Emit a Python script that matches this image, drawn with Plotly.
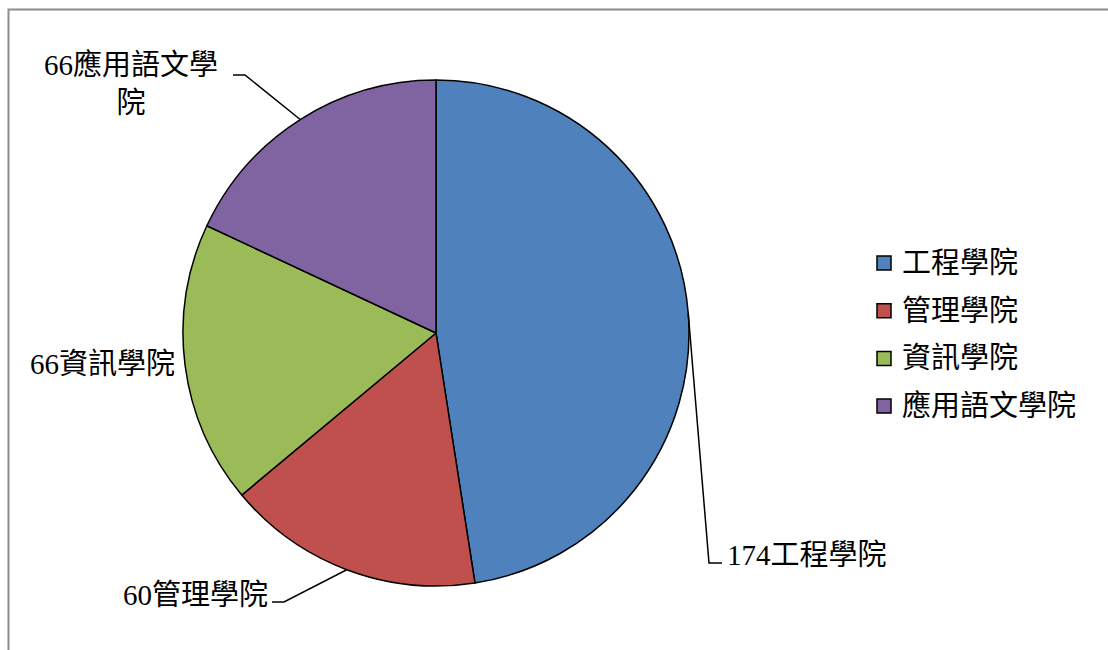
import math
import plotly.graph_objects as go

# College enrolment counts
colleges = ["工程學院", "管理學院", "資訊學院", "應用語文學院"]
counts = [174, 60, 66, 66]
colors = ["#4F81BD", "#C0504D", "#9BBB59", "#8064A2"]

W, H = 1108, 650
FONT = "Liberation Serif, Noto Sans CJK TC, serif"
FS = 29


def px(x):
    return x / W


def py(y):
    return 1 - y / H


# Pie placement (pixels)
cx, cy, r = 436, 333, 253

fig = go.Figure(
    go.Pie(
        labels=colleges,
        values=counts,
        sort=False,
        direction="clockwise",
        rotation=0,
        marker=dict(colors=colors, line=dict(color="black", width=1.5)),
        textinfo="none",
        hoverinfo="label+value",
        domain=dict(x=[px(cx - r), px(cx + r)], y=[py(cy + r), py(cy - r)]),
        showlegend=False,
    )
)

# Mid-angle of every slice, clockwise from 12 o'clock
total = sum(counts)
mids = []
acc = 0
for v in counts:
    mids.append((acc + v / 2) / total * 2 * math.pi)
    acc += v


def edge_point(a):
    return cx + r * math.sin(a), cy - r * math.cos(a)


# Label text, anchor and leader-line elbow/end for each slice
label_text = [
    f"{counts[0]}{colleges[0]}",
    f"{counts[1]}{colleges[1]}",
    f"{counts[2]}{colleges[2]}",
    f"{counts[3]}{colleges[3][:5]}<br>{colleges[3][5:]}",
]
label_pos = [(725, 555, "left"), (270, 595, "right"), (177, 364, "right"), (131, 84, "center")]
leaders = [
    [(709, 563), (722, 563)],
    [(284, 602), (272, 602)],
    None,
    [(245, 75), (233, 75)],
]

shapes = [
    dict(type="rect", xref="paper", yref="paper",
         x0=px(8.5), x1=px(1130), y0=py(9.5), y1=py(700),
         line=dict(color="#8c8c8c", width=2), fillcolor="rgba(0,0,0,0)", layer="below")
]
annotations = []
for i in range(len(counts)):
    x, y, anchor = label_pos[i]
    annotations.append(dict(
        x=px(x), y=py(y), xref="paper", yref="paper", text=label_text[i],
        showarrow=False, xanchor=anchor, yanchor="middle", align="center",
        font=dict(family=FONT, size=FS, color="black"),
    ))
    if leaders[i]:
        sx, sy = edge_point(mids[i])
        pts = [(sx, sy)] + leaders[i]
        path = "M " + " L ".join(f"{px(a):.5f},{py(b):.5f}" for a, b in pts)
        shapes.append(dict(type="path", xref="paper", yref="paper", path=path,
                           line=dict(color="black", width=1.5)))

# Legend drawn as swatches with text
leg_x, leg_y0, leg_dy, sw = 877, 263, 47.7, 14
for i, name in enumerate(colleges):
    yc = leg_y0 + i * leg_dy
    shapes.append(dict(type="rect", xref="paper", yref="paper",
                       x0=px(leg_x), x1=px(leg_x + sw), y0=py(yc - sw / 2), y1=py(yc + sw / 2),
                       fillcolor=colors[i], line=dict(color="black", width=1.5)))
    annotations.append(dict(
        x=px(leg_x + sw + 9), y=py(yc), xref="paper", yref="paper", text=name,
        showarrow=False, xanchor="left", yanchor="middle",
        font=dict(family=FONT, size=FS, color="black"),
    ))

fig.update_layout(
    width=W, height=H,
    margin=dict(l=0, r=0, t=0, b=0),
    paper_bgcolor="white", plot_bgcolor="white",
    shapes=shapes, annotations=annotations,
)

fig.write_html("out.html")
